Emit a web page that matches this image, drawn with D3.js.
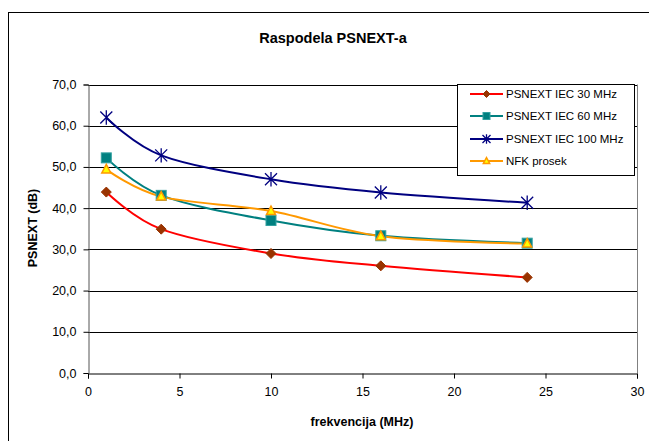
<!DOCTYPE html>
<html><head><meta charset="utf-8">
<script src="https://cdn.jsdelivr.net/npm/d3@7"></script>
<style>body{margin:0;background:#fff}svg{display:block;font-family:"Liberation Sans",Arial,sans-serif}</style>
</head><body><svg id="c" width="649" height="441"></svg>
<script>
const freqs = [1, 4, 10, 16, 24];
const iec30 = [43.9, 34.9, 29.0, 26.0, 23.2];
const iec60 = [52.2, 43.1, 37.0, 33.3, 31.5];
const iec100 = [62.0, 52.8, 47.0, 43.8, 41.3];
const nfk = [49.4, 42.8, 39.3, 33.2, 31.4];
const seriesNames = ["PSNEXT IEC 30 MHz", "PSNEXT IEC 60 MHz", "PSNEXT IEC 100 MHz", "NFK prosek"];
const xTicks = [0, 5, 10, 15, 20, 25, 30];
const yTicks = [0, 10, 20, 30, 40, 50, 60, 70];
const title = "Raspodela PSNEXT-a";
const xTitle = "frekvencija (MHz)";
const yTitle = "PSNEXT (dB)";

const svg = d3.select("#c");
const L = 88, R = 637, T = 84.5, B = 373;
const x = d3.scaleLinear().domain([0, 30]).range([L, R]);
const y = d3.scaleLinear().domain([0, 70]).range([B, T]);

// outer frame
svg.append("rect").attr("x", 8.5).attr("y", 12.5).attr("width", 660).attr("height", 460)
  .attr("fill", "none").attr("stroke", "#000").attr("stroke-width", 1);

// gridlines
svg.append("g").selectAll("line").data(yTicks.filter(d => d > 0)).join("line")
  .attr("x1", L).attr("x2", R).attr("y1", d => Math.round(y(d)) + 0.5).attr("y2", d => Math.round(y(d)) + 0.5)
  .attr("stroke", "#000").attr("stroke-width", 1);
// right border of plot
svg.append("line").attr("x1", R + 0.5).attr("x2", R + 0.5).attr("y1", y(70)).attr("y2", B)
  .attr("stroke", "#808080");

// axes
const xAxis = d3.axisBottom(x).tickValues(xTicks).tickSize(5).tickPadding(9).tickFormat(d3.format("d"));
const gx = svg.append("g").attr("transform", `translate(0,${Math.round(B) + 0.5})`).call(xAxis);
gx.select(".domain").attr("stroke", "#000");
gx.selectAll(".tick line").attr("stroke", "#000");
gx.selectAll("text").attr("font-size", 12.5).attr("fill", "#000");

const yAxis = d3.axisLeft(y).tickValues(yTicks).tickSize(5).tickPadding(7).tickFormat(d => d3.format(".1f")(d).replace(".", ","));
const gy = svg.append("g").attr("transform", `translate(${L + 0.5},0)`).call(yAxis);
gy.select(".domain").attr("stroke", "#555");
gy.selectAll(".tick line").attr("stroke", "#000");
gy.selectAll("text").attr("font-size", 12.5).attr("fill", "#000");

// titles
svg.append("text").attr("x", 333).attr("y", 43).attr("text-anchor", "middle")
  .attr("font-size", 14.5).attr("font-weight", "bold").text(title);
svg.append("text").attr("x", 362).attr("y", 426).attr("text-anchor", "middle")
  .attr("font-size", 12.5).attr("font-weight", "bold").text(xTitle);
svg.append("text").attr("transform", "translate(37,228) rotate(-90)").attr("text-anchor", "middle")
  .attr("font-size", 12.5).attr("font-weight", "bold").text(yTitle);

const series = [
  {name: seriesNames[0], vals: iec30, color: "#FF0000", marker: "diamond", mfill: "#993300", mstroke: "#993300"},
  {name: seriesNames[1], vals: iec60, color: "#008080", marker: "square", mfill: "#008080", mstroke: "#33A0A0"},
  {name: seriesNames[2], vals: iec100, color: "#000080", marker: "star", mfill: "none", mstroke: "#000080"},
  {name: seriesNames[3], vals: nfk, color: "#FF9900", marker: "triangle", mfill: "#FFFF00", mstroke: "#FF9900"}
];

const line = d3.line().x(d => x(d[0])).y(d => y(d[1])).curve(d3.curveCatmullRom.alpha(0));

function drawMarker(g, type, cx, cy, s, fill, stroke) {
  if (type === "diamond") {
    g.append("path").attr("d", `M${cx},${cy - s}L${cx + s},${cy}L${cx},${cy + s}L${cx - s},${cy}Z`)
      .attr("fill", fill).attr("stroke", stroke);
  } else if (type === "square") {
    g.append("rect").attr("x", cx - s).attr("y", cy - s).attr("width", 2 * s).attr("height", 2 * s)
      .attr("fill", fill).attr("stroke", stroke);
  } else if (type === "star") {
    const p = s;
    g.append("path").attr("d", `M${cx - p},${cy - p}L${cx + p},${cy + p}M${cx - p},${cy + p}L${cx + p},${cy - p}M${cx},${cy - p * 1.2}L${cx},${cy + p * 1.2}`)
      .attr("stroke", stroke).attr("stroke-width", 1.3).attr("fill", "none");
  } else if (type === "triangle") {
    g.append("path").attr("d", `M${cx},${cy - s}L${cx + s * 0.9},${cy + s * 0.7}L${cx - s * 0.9},${cy + s * 0.7}Z`)
      .attr("fill", fill).attr("stroke", stroke).attr("stroke-width", 1.5);
  }
}
const msize = {diamond: 5, square: 5, star: 6, triangle: 5};

series.forEach(s => {
  const pts = freqs.map((f, i) => [f, s.vals[i]]);
  svg.append("path").datum(pts).attr("d", line).attr("fill", "none")
    .attr("stroke", s.color).attr("stroke-width", 2);
});
series.forEach(s => {
  const g = svg.append("g");
  freqs.forEach((f, i) => drawMarker(g, s.marker, x(f), y(s.vals[i]), msize[s.marker], s.mfill, s.mstroke));
});

// legend
const lg = svg.append("g");
lg.append("rect").attr("x", 457.5).attr("y", 84.5).attr("width", 177).attr("height", 91)
  .attr("fill", "#fff").attr("stroke", "#000");
const ly = [94, 116, 139, 161];
series.forEach((s, i) => {
  lg.append("line").attr("x1", 470).attr("x2", 503).attr("y1", ly[i]).attr("y2", ly[i])
    .attr("stroke", s.color).attr("stroke-width", 2);
  drawMarker(lg, s.marker, 486.5, ly[i], s.marker === "star" ? 4 : 3.5, s.mfill, s.mstroke);
  lg.append("text").attr("x", 506).attr("y", ly[i] + 4).attr("font-size", 11.5).text(s.name);
});
</script></body></html>
